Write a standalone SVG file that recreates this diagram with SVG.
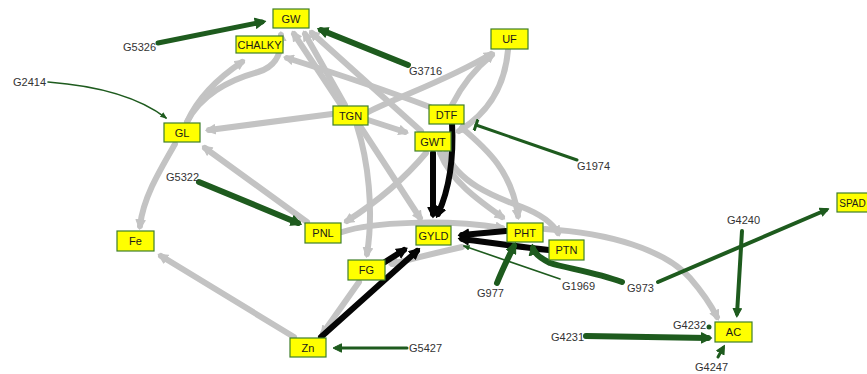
<svg xmlns="http://www.w3.org/2000/svg" width="867" height="374" viewBox="0 0 867 374">
  <style>
    .e { fill: none; stroke-linecap: round; stroke-linejoin: round; }
    .gray { stroke: #c3c3c3; stroke-width: 6; marker-end: url(#hg); }
    .black { stroke: #050505; stroke-width: 6; marker-end: url(#hb); }
    .grn-l { stroke: #1e5b1e; stroke-width: 6; marker-end: url(#hgl); }
    .grn-m { stroke: #1e5b1e; stroke-width: 4; marker-end: url(#hgm); }
    .grn-s { stroke: #1e5b1e; stroke-width: 1.6; marker-end: url(#hgs); }
    .node rect { fill: #ffff00; stroke: #3f7f2a; stroke-width: 1.2; }
    .node text { font-family: "Liberation Sans", Arial, sans-serif; font-size: 11px; fill: #1a1a1a; text-anchor: middle; }
    .gene text { font-family: "Liberation Sans", Arial, sans-serif; font-size: 11px; fill: #333333; }
  </style>
  <defs>
    <marker id="hg" viewBox="0 0 10 10" refX="6" refY="5" markerWidth="11" markerHeight="11" markerUnits="userSpaceOnUse" orient="auto">
      <path d="M0.5,0.8 L9,5 L0.5,9.2 Z" fill="#c3c3c3" stroke="#c3c3c3" stroke-width="1" stroke-linejoin="round"/>
    </marker>
    <marker id="hb" viewBox="0 0 10 10" refX="6" refY="5" markerWidth="12" markerHeight="12" markerUnits="userSpaceOnUse" orient="auto">
      <path d="M0.5,0.8 L9,5 L0.5,9.2 Z" fill="#050505" stroke="#050505" stroke-width="1" stroke-linejoin="round"/>
    </marker>
    <marker id="hgl" viewBox="0 0 10 10" refX="6" refY="5" markerWidth="12" markerHeight="12" markerUnits="userSpaceOnUse" orient="auto">
      <path d="M0.5,0.8 L9,5 L0.5,9.2 Z" fill="#1e5b1e" stroke="#1e5b1e" stroke-width="1" stroke-linejoin="round"/>
    </marker>
    <marker id="hgm" viewBox="0 0 10 10" refX="6" refY="5" markerWidth="10" markerHeight="10" markerUnits="userSpaceOnUse" orient="auto">
      <path d="M0.5,0.8 L9,5 L0.5,9.2 Z" fill="#1e5b1e" stroke="#1e5b1e" stroke-width="1" stroke-linejoin="round"/>
    </marker>
    <marker id="hgs" viewBox="0 0 10 10" refX="8" refY="5" markerWidth="7" markerHeight="7" markerUnits="userSpaceOnUse" orient="auto">
      <path d="M0,1 L10,5 L0,9 Z" fill="#1e5b1e"/>
    </marker>
    <marker id="tee" viewBox="0 0 4 12" refX="2" refY="6" markerWidth="4" markerHeight="12" markerUnits="userSpaceOnUse" orient="auto">
      <path d="M2,0.5 L2,11.5" stroke="#1e5b1e" stroke-width="3" stroke-linecap="round"/>
    </marker>
  </defs>

  <g id="connectors">
    <!-- grey interactions -->
    <path class="e gray" d="M187,122 C197,100 215,80 242,62"/>
    <path class="e gray" d="M187,122 C200,96 228,80 258,72 C275,67 282,55 281,35"/>
    <path class="e gray" d="M332,114 L209,130"/>
    <path class="e gray" d="M307,222 L205,148"/>
    <path class="e gray" d="M175,144 C160,170 143,198 140,226"/>
    <path class="e gray" d="M294,337 L161,256"/>
    <path class="e gray" d="M359,282 L323,333"/>
    <path class="e gray" d="M462,247 C440,252 415,258 392,264"/>
    <path class="e gray" d="M357,126 C368,160 374,210 367,254"/>
    <path class="e gray" d="M360,126 L420,218"/>
    <path class="e gray" d="M426,153 C405,178 380,200 347,221"/>
    <path class="e gray" d="M342,232 C372,222 445,219 502,228"/>
    <path class="e gray" d="M440,153 C452,182 478,200 502,217"/>
    <path class="e gray" d="M462,128 C488,150 512,172 518,216"/>
    <path class="e gray" d="M446,153 C458,182 492,196 522,207 C540,214 552,222 558,233"/>
    <path class="e gray" d="M545,229 C610,233 665,250 690,278 C703,293 711,305 717,317"/>
    <path class="e gray" d="M508,50 C505,85 490,112 459,131"/>
    <path class="e gray" d="M368,112 C402,95 448,80 491,54"/>
    <path class="e gray" d="M452,105 C462,85 476,68 492,55"/>
    <path class="e gray" d="M341,105 L294,34"/>
    <path class="e gray" d="M345,105 L305,34"/>
    <path class="e gray" d="M421,131 L312,33"/>
    <path class="e gray" d="M430,107 C385,90 325,70 287,58"/>
    <path class="e gray" d="M368,120 L405,132"/>

    <!-- black interactions -->
    <path class="e black" d="M433,153 L433,214"/>
    <path class="e black" d="M452,123 C454,160 448,192 438,214"/>
    <path class="e black" d="M506,231 L462,235"/>
    <path class="e black" d="M549,250 C520,247 492,243 462,239"/>
    <path class="e black" d="M385,262 L404,250"/>
    <path class="e black" d="M321,337 L417,251"/>

    <!-- green regulator links -->
    <path class="e grn-l" style="stroke-width:5" d="M158,43 L262,22"/>
    <path class="e grn-l" d="M408,65 L321,30"/>
    <path class="e grn-s" d="M48,82 C100,86 140,98 166,118"/>
    <path class="e" stroke="#1e5b1e" stroke-width="3" marker-end="url(#tee)" d="M577,160 L476,125"/>
    <path class="e grn-l" d="M199,182 L298,223"/>
    <path class="e grn-l" d="M497,283 C503,268 509,256 514,246"/>
    <path class="e grn-s" d="M560,279 L464,246"/>
    <path class="e grn-l" d="M622,282 C595,272 565,268 550,263 C540,258 534,253 533,248"/>
    <path class="e grn-m" d="M658,282 L826,210"/>
    <path class="e grn-m" d="M742,231 L737,314"/>
    <path class="e grn-l" d="M586,336 L708,338"/>
    <circle cx="709" cy="327" r="2.5" fill="#1e5b1e"/>
    <path class="e grn-m" style="stroke-width:3" d="M718,357 L723,348"/>
    <path class="e grn-m" style="stroke-width:3" d="M407,348 L336,348"/>
  </g>

  <!-- trait nodes -->
  <g id="node-GW" class="node"><rect x="273" y="9" width="36" height="19"/><text x="291" y="22.5">GW</text></g>
  <g id="node-CHALKY" class="node"><rect x="236" y="36" width="47" height="17"/><text x="259.5" y="48.5">CHALKY</text></g>
  <g id="node-UF" class="node"><rect x="491" y="29" width="37" height="20"/><text x="509.5" y="43">UF</text></g>
  <g id="node-TGN" class="node"><rect x="333" y="106" width="35" height="19"/><text x="350.5" y="119.5">TGN</text></g>
  <g id="node-DTF" class="node"><rect x="429" y="105" width="35" height="19"/><text x="446.5" y="118.5">DTF</text></g>
  <g id="node-GWT" class="node"><rect x="415" y="132" width="36" height="19"/><text x="433" y="145.5">GWT</text></g>
  <g id="node-GL" class="node"><rect x="164" y="123" width="36" height="19"/><text x="182" y="136.5">GL</text></g>
  <g id="node-Fe" class="node"><rect x="117" y="231" width="37" height="20"/><text x="135.5" y="245">Fe</text></g>
  <g id="node-PNL" class="node"><rect x="305" y="223" width="36" height="20"/><text x="323" y="237">PNL</text></g>
  <g id="node-FG" class="node"><rect x="348" y="260" width="37" height="20"/><text x="366.5" y="274">FG</text></g>
  <g id="node-Zn" class="node"><rect x="290" y="338" width="36" height="19"/><text x="308" y="351.5">Zn</text></g>
  <g id="node-GYLD" class="node"><rect x="416" y="226" width="35" height="19"/><text x="433.5" y="239.5">GYLD</text></g>
  <g id="node-PHT" class="node"><rect x="507" y="223" width="36" height="19"/><text x="525" y="236.5">PHT</text></g>
  <g id="node-PTN" class="node"><rect x="549" y="240" width="35" height="20"/><text x="566.5" y="254">PTN</text></g>
  <g id="node-AC" class="node"><rect x="715" y="322" width="37" height="20"/><text x="733.5" y="336">AC</text></g>
  <g id="node-SPAD" class="node"><rect x="837" y="193" width="40" height="19"/><text x="852.5" y="206.5" style="font-size:10px">SPAD</text></g>

  <!-- gene nodes -->
  <g id="gene-G5326" class="gene"><text x="123" y="51">G5326</text></g>
  <g id="gene-G2414" class="gene"><text x="13" y="86">G2414</text></g>
  <g id="gene-G3716" class="gene"><text x="409" y="75">G3716</text></g>
  <g id="gene-G1974" class="gene"><text x="577" y="170">G1974</text></g>
  <g id="gene-G5322" class="gene"><text x="166" y="181">G5322</text></g>
  <g id="gene-G977" class="gene"><text x="477" y="297">G977</text></g>
  <g id="gene-G1969" class="gene"><text x="562" y="290">G1969</text></g>
  <g id="gene-G973" class="gene"><text x="627" y="292">G973</text></g>
  <g id="gene-G4240" class="gene"><text x="727" y="224">G4240</text></g>
  <g id="gene-G4231" class="gene"><text x="551" y="341">G4231</text></g>
  <g id="gene-G4232" class="gene"><text x="673" y="329">G4232</text></g>
  <g id="gene-G4247" class="gene"><text x="695" y="371">G4247</text></g>
  <g id="gene-G5427" class="gene"><text x="409" y="352">G5427</text></g>
</svg>
